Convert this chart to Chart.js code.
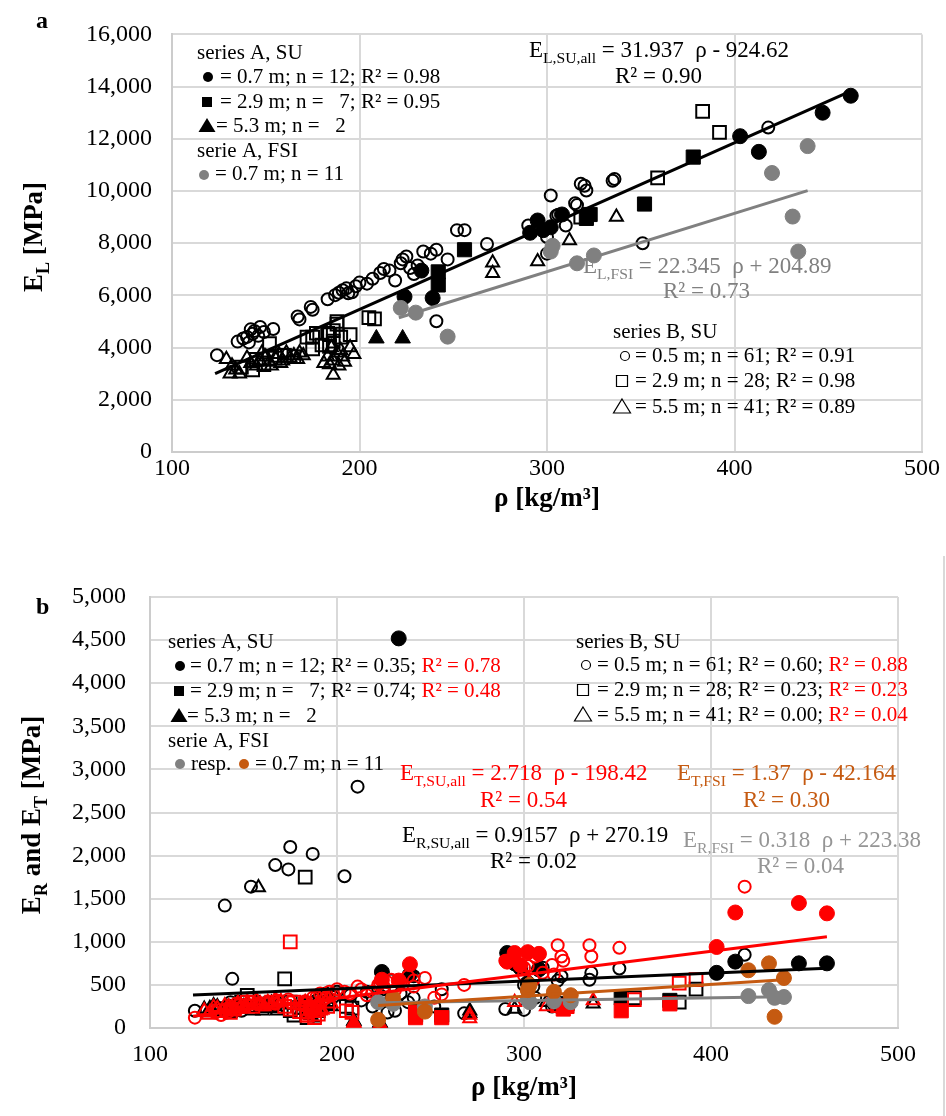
<!DOCTYPE html>
<html>
<head>
<meta charset="utf-8">
<script src="https://cdn.jsdelivr.net/npm/chart.js@4.4.1/dist/chart.umd.min.js"></script>
<style>
  body { margin: 0; background: #fff; }
  #wrap { position: relative; width: 946px; height: 1116px; }
  #c1 { position: absolute; left: 0; top: 0; }
  #c2 { position: absolute; left: 0; top: 540px; }
  #frame { position: absolute; left: 943px; top: 556px; width: 2px; height: 560px; background: #d9d9d9; }
</style>
</head>
<body>
<div id="wrap">
  <canvas id="c1" width="946" height="540"></canvas>
  <canvas id="c2" width="946" height="576"></canvas>
  <div id="frame"></div>
</div>
<script>
// ---- series A, SU (filled markers) ----
const rhoA07 = [224, 233, 239, 291, 295, 298, 302, 308, 403, 413, 447, 462];
const eLA07  = [5950, 6950, 5900, 8400, 8870, 8500, 8610, 9100, 12100, 11500, 13000, 13650];
const eRA07  = [650, 4520, 620, 870, 750, 700, 520, 680, 640, 770, 750, 750];
const eTA07  = [560, 550, 740, 770, 870, 730, 880, 860, 940, 1340, 1450, 1330];

const rhoA29 = [242, 242, 256, 321, 323, 352, 378];
const eLA29  = [6900, 6400, 7750, 8950, 9100, 9500, 11300];
const eRA29  = [200, 150, 150, 250, 280, 350, 320];
const eTA29  = [120, 180, 120, 220, 250, 200, 280];

const rhoA53 = [209, 223];
const eLA53  = [4350, 4350];
const eRA53  = [80, 60];
const eTA53  = [60, 40];

// ---- series A, FSI ----
const rhoFSI = [222, 230, 247, 302, 303, 316, 325, 420, 431, 434, 439];
const eLFSI  = [5520, 5340, 4420, 7680, 7900, 7230, 7530, 10690, 9020, 7680, 11720];
const eRFSI  = [300, 280, 250, 330, 300, 310, 300, 370, 440, 350, 360];
const eTFSI  = [95, 350, 190, 440, 500, 420, 380, 670, 750, 130, 580];

// ---- series B, SU (open markers) ----
const rhoB05 = [124,135,140,143,144,147,154,167,168,174, 175,187,191,193,196,194,200,204,207,211,
                213,219,222,223,225,229,234,238,241,247, 241,268,252,256,290,302,300,306,310,315,
                318,320,321,335,336,316,305,418,351,138, 141,146,149,142,183,189,198,216,231,300, 227];
const eLB05  = [3710,4230,4410,4530,4640,4790,4710,5190,5080,5560, 5450,6010,6200,6270,6120,6080,6490,6450,6640,6860,
                7010,6570,7230,7380,7490,6820,7680,7600,7750,7380, 5010,7970,8500,8500,8680,9830,8240,9090,8680,9530,
                10280,10200,10020,10390,10460,9460,9050,12430,8000,4350, 4200,4450,4600,4700,5850,6100,6350,6950,7150,7600, 7050];
const eRB05  = [200,250,1420,300,570,280,1640,1890,300,1840, 2100,2020,350,300,280,400,420,1760,380,2800,
                320,250,300,380,450,550,400,300,600,200, 350,170,250,450,220,420,500,350,700,250,
                550,600,230,560,640,270,480,850,690,230, 180,240,200,260,260,320,360,420,200,210, 180];
const eTB05  = [120,180,200,250,230,260,300,280,320,330, 300,350,400,380,420,350,450,420,400,480,
                450,420,500,520,480,560,530,600,550,580, 480,500,350,390,780,720,700,830,640,730,
                960,830,780,960,830,620,560,1640,930,150, 220,280,240,190,310,360,390,380,440,610, 530];

const rhoB29 = [383,392,359,318,205,208,195,188,184,152, 145,149,143,172,175,177,175,183,186,188, 184,137,186,160,155,165,190,180];
const eLB29  = [13050,12250,10500,9000,5150,5100,4500,4900,4500,4150, 3550,3350,3150,4400,4400,4550,3950,4550,4650,5000, 4050,3250,4250,3700,3600,3650,4400,4100];
const eRB29  = [300,450,350,280,250,230,300,150,200,380, 250,300,200,570,200,150,300,1750,180,250, 120,220,280,230,300,260,200,240];
const eTB29  = [520,560,330,260,200,180,250,120,150,300, 220,260,180,250,220,300,1000,280,220,200, 150,200,240,280,250,300,160,190];

const rhoB55 = [337,312,271,271,295,186,186,184,183,191, 195,197,129,131,136,140,132,134,147,150,
                152,155,157,159,161,163,165,167,168,170, 142,145,188,189,192,181,185,190,158,148, 153];
const eLB55  = [9000,8100,7250,6850,7300,3500,2950,3350,3650,3650, 4000,3750,3550,3000,3000,3600,3300,3150,3500,3650,
                3450,3600,3750,3500,3800,3600,3700,3550,3800,3700, 3400,3300,3800,3300,3450,3400,4000,3900,3400,3800, 3300];
const eRB55  = [280,300,170,200,220,150,200,180,250,220, 300,250,220,180,250,200,230,260,220,250,
                280,200,300,240,270,230,290,250,200,280, 210,240,260,190,230,210,270,240,1630,260, 230];
const eTB55  = [320,250,110,150,300,200,250,150,300,200, 350,280,200,150,230,260,180,240,290,230,
                300,260,320,280,250,300,270,330,290,310, 250,200,230,180,210,260,240,300,270,220, 260];

// trendlines as printed on the chart: [slope, intercept, rho from, rho to]
const trendL_SU  = [31.937, -924.62, 123, 462];
const trendL_FSI = [22.345, 204.89, 221, 439];
const trendT_SU  = [2.718, -198.42, 123, 462];
const trendR_SU  = [0.9157, 270.19, 123, 462];
const trendT_FSI = [1.37, -42.164, 222, 439];
const trendR_FSI = [0.318, 223.38, 222, 439];

const xTicks = [100, 200, 300, 400, 500];

const RED = '#ff0000', BROWN = '#c55a11', GRAY = '#808080', GRAY2 = '#959595';
const SERIF = '"Liberation Serif", "Times New Roman", serif';

function pts(xs, ys) { return xs.map((x, i) => ({ x: x, y: ys[i] })); }
function trend(t) { return [{ x: t[2], y: t[0] * t[2] + t[1] }, { x: t[3], y: t[0] * t[3] + t[1] }]; }

function markers(data, style, color, filled, r) {
  return {
    data: data, pointStyle: style, pointRadius: r, pointHoverRadius: r,
    borderColor: color, backgroundColor: filled ? color : 'rgba(0,0,0,0)',
    borderWidth: filled ? 1 : 2
  };
}
function line(data, color) {
  return { data: data, showLine: true, borderColor: color, borderWidth: 3, pointRadius: 0, fill: false };
}

// text helpers (plain strings = normal text, {sub: '...'} = subscript)
function rich(ctx, x, y, parts, size, color) {
  ctx.fillStyle = color;
  ctx.textAlign = 'left';
  ctx.textBaseline = 'alphabetic';
  parts.forEach(p => {
    const isSub = typeof p !== 'string';
    const t = isSub ? p.sub : p;
    const s = isSub ? size * 0.68 : size;
    ctx.font = s + 'px ' + SERIF;
    ctx.fillText(t, x, y + (isSub ? size * 0.25 : 0));
    x += ctx.measureText(t).width;
  });
  return x;
}
function txt(ctx, s, x, y, size, color) {
  ctx.fillStyle = color;
  ctx.textAlign = 'left';
  ctx.textBaseline = 'alphabetic';
  ctx.font = size + 'px ' + SERIF;
  ctx.fillText(s, x, y);
  return x + ctx.measureText(s).width;
}
function mark(ctx, shape, x, y, filled, color) {
  ctx.save();
  ctx.fillStyle = color; ctx.strokeStyle = color; ctx.lineWidth = 1.2;
  ctx.beginPath();
  if (shape === 'circle') ctx.arc(x, y, filled ? 5 : 4.5, 0, Math.PI * 2);
  else if (shape === 'rect') { if (filled) ctx.rect(x - 5, y - 5, 10, 10); else ctx.rect(x - 5.5, y - 5.5, 11, 11); }
  else { ctx.moveTo(x, y - 8); ctx.lineTo(x + 8.5, y + 6); ctx.lineTo(x - 8.5, y + 6); ctx.closePath(); }
  if (filled) ctx.fill(); else ctx.stroke();
  ctx.restore();
}
// rotated bold axis title, segments: [text, size, dy]
function vtitle(ctx, segs, cx, cy) {
  ctx.save();
  ctx.translate(cx, cy);
  ctx.rotate(-Math.PI / 2);
  ctx.fillStyle = '#000';
  ctx.textAlign = 'left';
  let tw = 0;
  segs.forEach(s => { ctx.font = 'bold ' + s[1] + 'px ' + SERIF; tw += ctx.measureText(s[0]).width; });
  let xx = -tw / 2;
  segs.forEach(s => {
    ctx.font = 'bold ' + s[1] + 'px ' + SERIF;
    ctx.fillText(s[0], xx, s[2]);
    xx += ctx.measureText(s[0]).width;
  });
  ctx.restore();
}

function scales(yMax, yStep, yWidth, xHeight, yPad, xPad) {
  const grid = { color: '#d9d9d9', lineWidth: 2, drawTicks: false };
  const border = { color: '#cccccc', width: 2 };
  const font = { family: SERIF, size: 24 };
  return {
    x: {
      type: 'linear', min: 100, max: 500,
      afterBuildTicks: s => { s.ticks = xTicks.map(v => ({ value: v })); },
      grid: grid, border: border,
      ticks: { color: '#000', font: font, padding: xPad, maxRotation: 0 },
      afterFit: s => { s.height = xHeight; }
    },
    y: {
      min: 0, max: yMax,
      grid: grid, border: border,
      ticks: { stepSize: yStep, color: '#000', font: font, padding: yPad,
               callback: v => v.toLocaleString('en-US') },
      afterFit: s => { s.width = yWidth; }
    }
  };
}

// ---------------- chart a ----------------
const textA = {
  id: 'textA',
  afterDraw(chart) {
    const ctx = chart.ctx;
    ctx.save();
    ctx.font = 'bold 24px ' + SERIF;
    ctx.fillStyle = '#000';
    ctx.textAlign = 'left';
    ctx.fillText('a', 36, 28);

    // series A legend
    txt(ctx, 'series A, SU', 197, 59, 21, '#000');
    mark(ctx, 'circle', 208, 77, true, '#000');
    txt(ctx, '= 0.7 m; n = 12; R\u00b2 = 0.98', 220, 83, 21, '#000');
    mark(ctx, 'rect', 207, 102, true, '#000');
    txt(ctx, '= 2.9 m; n =   7; R\u00b2 = 0.95', 220, 108, 21, '#000');
    mark(ctx, 'tri', 207, 126, true, '#000');
    txt(ctx, '= 5.3 m; n =   2', 216, 132, 21, '#000');
    txt(ctx, 'serie A, FSI', 197, 157, 21, '#000');
    mark(ctx, 'circle', 204, 175, true, GRAY);
    txt(ctx, '= 0.7 m; n = 11', 215, 180, 21, '#000');

    // series B legend
    txt(ctx, 'series B, SU', 613, 338, 21, '#000');
    mark(ctx, 'circle', 625, 356, false, '#000');
    txt(ctx, '= 0.5 m; n = 61; R\u00b2 = 0.91', 635, 362, 21, '#000');
    mark(ctx, 'rect', 622, 381, false, '#000');
    txt(ctx, '= 2.9 m; n = 28; R\u00b2 = 0.98', 635, 387, 21, '#000');
    mark(ctx, 'tri', 622, 407, false, '#000');
    txt(ctx, '= 5.5 m; n = 41; R\u00b2 = 0.89', 635, 413, 21, '#000');

    // equations
    rich(ctx, 529, 57, ['E', { sub: 'L,SU,all' }, ' = 31.937  \u03c1 - 924.62'], 23, '#000');
    txt(ctx, 'R\u00b2 = 0.90', 615, 83, 23, '#000');
    rich(ctx, 583, 273, ['E', { sub: 'L,FSI' }, ' = 22.345  \u03c1 + 204.89'], 23, GRAY);
    txt(ctx, 'R\u00b2 = 0.73', 663, 298, 23, GRAY);

    // axis titles
    ctx.font = 'bold 27px ' + SERIF;
    ctx.fillStyle = '#000';
    ctx.textAlign = 'center';
    ctx.fillText('\u03c1 [kg/m\u00b3]', 547, 506);
    vtitle(ctx, [['E', 27, 0], ['L', 18, 7], [' [MPa]', 27, 0]], 42, 237);
    ctx.restore();
  }
};

new Chart(document.getElementById('c1'), {
  type: 'scatter',
  data: {
    datasets: [
      line(trend(trendL_SU), '#000'),
      line(trend(trendL_FSI), GRAY),
      markers(pts(rhoFSI, eLFSI), 'circle', GRAY, true, 7.5),
      markers(pts(rhoA07, eLA07), 'circle', '#000', true, 7.5),
      markers(pts(rhoA29, eLA29), 'rect', '#000', true, 10),
      markers(pts(rhoA53, eLA53), 'triangle', '#000', true, 9),
      markers(pts(rhoB05, eLB05), 'circle', '#000', false, 6),
      markers(pts(rhoB29, eLB29), 'rect', '#000', false, 9),
      markers(pts(rhoB55, eLB55), 'triangle', '#000', false, 7.5)
    ]
  },
  options: {
    responsive: false,
    animation: false,
    layout: { padding: { left: 0, right: 24, top: 21, bottom: 0 } },
    plugins: { legend: { display: false }, tooltip: { enabled: false } },
    scales: scales(16000, 2000, 172, 88, 20, 2)
  },
  plugins: [textA]
});

// ---------------- chart b ----------------
const OFF = 540;
const textB = {
  id: 'textB',
  afterDraw(chart) {
    const ctx = chart.ctx;
    ctx.save();
    ctx.translate(0, -OFF);
    ctx.font = 'bold 24px ' + SERIF;
    ctx.fillStyle = '#000';
    ctx.textAlign = 'left';
    ctx.fillText('b', 36, 614);

    // series A legend
    txt(ctx, 'series A, SU', 168, 648, 21, '#000');
    mark(ctx, 'circle', 180, 666, true, '#000');
    let x = txt(ctx, '= 0.7 m; n = 12; R\u00b2 = 0.35; ', 190, 672, 21, '#000');
    txt(ctx, 'R\u00b2 = 0.78', x, 672, 21, RED);
    mark(ctx, 'rect', 179, 691, true, '#000');
    x = txt(ctx, '= 2.9 m; n =   7; R\u00b2 = 0.74; ', 190, 697, 21, '#000');
    txt(ctx, 'R\u00b2 = 0.48', x, 697, 21, RED);
    mark(ctx, 'tri', 179, 716, true, '#000');
    txt(ctx, '= 5.3 m; n =   2', 187, 722, 21, '#000');
    txt(ctx, 'serie A, FSI', 168, 747, 21, '#000');
    mark(ctx, 'circle', 180, 764, true, GRAY);
    txt(ctx, 'resp.', 191, 770, 21, '#000');
    mark(ctx, 'circle', 244, 764, true, BROWN);
    txt(ctx, '= 0.7 m; n = 11', 255, 770, 21, '#000');

    // series B legend
    txt(ctx, 'series B, SU', 576, 648, 21, '#000');
    mark(ctx, 'circle', 586, 665, false, '#000');
    x = txt(ctx, '= 0.5 m; n = 61; R\u00b2 = 0.60; ', 597, 671, 21, '#000');
    txt(ctx, 'R\u00b2 = 0.88', x, 671, 21, RED);
    mark(ctx, 'rect', 583, 690, false, '#000');
    x = txt(ctx, '= 2.9 m; n = 28; R\u00b2 = 0.23; ', 597, 696, 21, '#000');
    txt(ctx, 'R\u00b2 = 0.23', x, 696, 21, RED);
    mark(ctx, 'tri', 583, 715, false, '#000');
    x = txt(ctx, '= 5.5 m; n = 41; R\u00b2 = 0.00; ', 597, 721, 21, '#000');
    txt(ctx, 'R\u00b2 = 0.04', x, 721, 21, RED);

    // equations
    rich(ctx, 400, 780, ['E', { sub: 'T,SU,all' }, ' = 2.718  \u03c1 - 198.42'], 23, RED);
    txt(ctx, 'R\u00b2 = 0.54', 480, 807, 23, RED);
    rich(ctx, 677, 780, ['E', { sub: 'T,FSI' }, ' = 1.37  \u03c1 - 42.164'], 23, BROWN);
    txt(ctx, 'R\u00b2 = 0.30', 743, 807, 23, BROWN);
    rich(ctx, 402, 842, ['E', { sub: 'R,SU,all' }, ' = 0.9157  \u03c1 + 270.19'], 23, '#000');
    txt(ctx, 'R\u00b2 = 0.02', 490, 868, 23, '#000');
    rich(ctx, 683, 847, ['E', { sub: 'R,FSI' }, ' = 0.318  \u03c1 + 223.38'], 23, GRAY2);
    txt(ctx, 'R\u00b2 = 0.04', 757, 873, 23, GRAY2);

    // axis titles
    ctx.font = 'bold 27px ' + SERIF;
    ctx.fillStyle = '#000';
    ctx.textAlign = 'center';
    ctx.fillText('\u03c1 [kg/m\u00b3]', 524, 1095);
    vtitle(ctx, [['E', 27, 0], ['R', 18, 7], [' and E', 27, 0], ['T', 18, 7], [' [MPa]', 27, 0]], 40, 815);
    ctx.restore();
  }
};

new Chart(document.getElementById('c2'), {
  type: 'scatter',
  data: {
    datasets: [
      line(trend(trendT_SU), RED),
      line(trend(trendR_SU), '#000'),
      line(trend(trendT_FSI), BROWN),
      line(trend(trendR_FSI), GRAY),
      markers(pts(rhoFSI, eTFSI), 'circle', BROWN, true, 7.5),
      markers(pts(rhoFSI, eRFSI), 'circle', GRAY, true, 7.5),
      markers(pts(rhoA07, eTA07), 'circle', RED, true, 7.5),
      markers(pts(rhoA29, eTA29), 'rect', RED, true, 10),
      markers(pts(rhoA53, eTA53), 'triangle', RED, true, 9),
      markers(pts(rhoB05, eTB05), 'circle', RED, false, 6),
      markers(pts(rhoB29, eTB29), 'rect', RED, false, 9),
      markers(pts(rhoB55, eTB55), 'triangle', RED, false, 7.5),
      markers(pts(rhoA07, eRA07), 'circle', '#000', true, 7.5),
      markers(pts(rhoA29, eRA29), 'rect', '#000', true, 10),
      markers(pts(rhoA53, eRA53), 'triangle', '#000', true, 9),
      markers(pts(rhoB05, eRB05), 'circle', '#000', false, 6),
      markers(pts(rhoB29, eRB29), 'rect', '#000', false, 9),
      markers(pts(rhoB55, eRB55), 'triangle', '#000', false, 7.5)
    ]
  },
  options: {
    responsive: false,
    animation: false,
    layout: { padding: { left: 0, right: 48, top: 57, bottom: 0 } },
    plugins: { legend: { display: false }, tooltip: { enabled: false } },
    scales: scales(5000, 500, 150, 88, 24, 12)
  },
  plugins: [textB]
});
</script>
</body>
</html>
